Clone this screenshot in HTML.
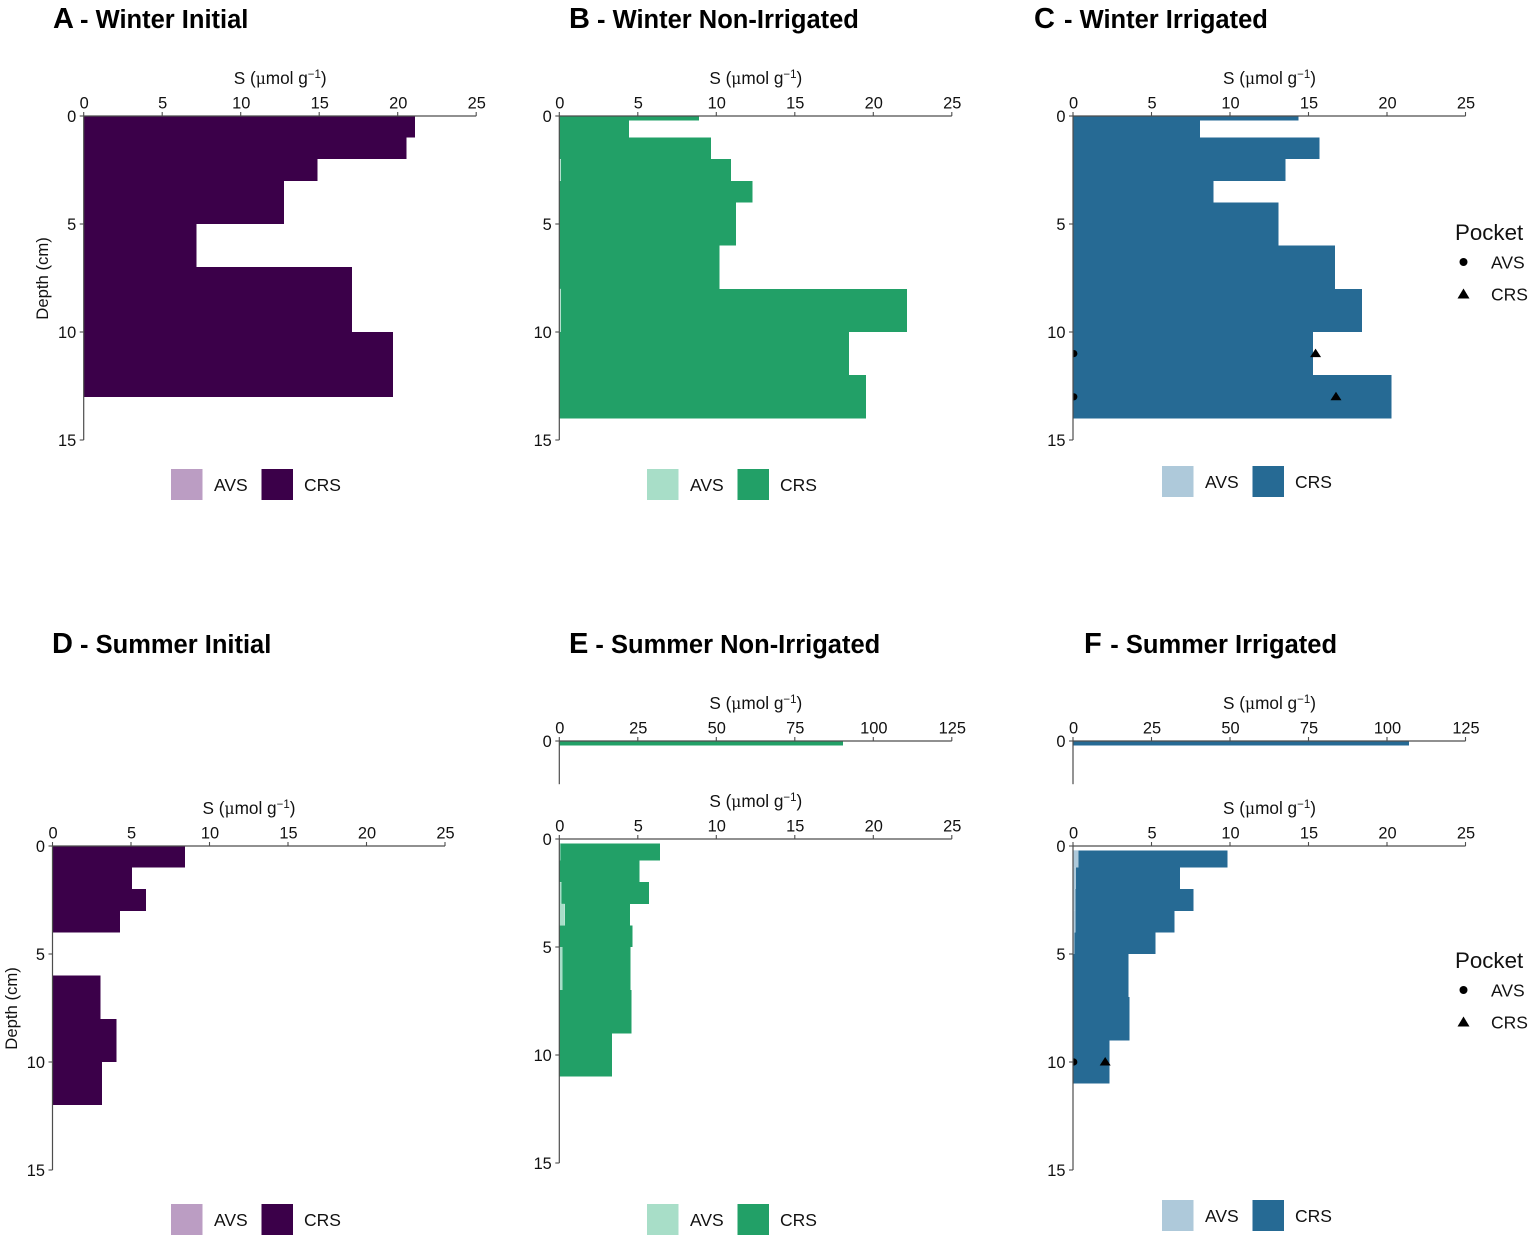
<!DOCTYPE html>
<html lang="en">
<head>
<meta charset="utf-8">
<title>Sulfur depth profiles</title>
<style>
html,body{margin:0;padding:0;background:#fff;}
svg{display:block;font-family:"Liberation Sans",Arial,sans-serif;}
.title{font-weight:bold;font-size:25.5px;fill:#000;}
.title .big{font-size:29px;}
.tick{font-size:16.4px;fill:#111;}
.axt{font-size:17.2px;fill:#111;}
.lg{font-size:17.5px;fill:#111;}
.pk{font-size:22.3px;fill:#111;}
</style>
</head>
<body>
<svg id="figure" xmlns="http://www.w3.org/2000/svg" width="1535" height="1242" viewBox="0 0 1535 1242">
<rect x="0" y="0" width="1535" height="1242" fill="#ffffff"/>
<text class="title" x="53" y="28"><tspan class="big">A</tspan><tspan dx="-1"> - Winter Initial</tspan></text>
<text class="title" x="569" y="28"><tspan class="big">B</tspan> - Winter Non-Irrigated</text>
<text class="title" x="1034" y="28"><tspan class="big">C</tspan><tspan dx="2"> - Winter Irrigated</tspan></text>
<text class="title" x="52" y="653"><tspan class="big">D</tspan> - Summer Initial</text>
<text class="title" x="569" y="653"><tspan class="big">E</tspan> - Summer Non-Irrigated</text>
<text class="title" x="1084" y="653"><tspan class="big">F</tspan><tspan dx="1.5"> - Summer Irrigated</tspan></text>
<text class="pk" x="1455" y="240">Pocket</text>
<circle cx="1463.5" cy="262" r="4" fill="#000"/>
<text class="lg" x="1491" y="268.5">AVS</text>
<polygon points="1463.5,288.5 1469.5,298.5 1457.5,298.5" fill="#000"/>
<text class="lg" x="1491" y="300.5">CRS</text>
<text class="pk" x="1455" y="968">Pocket</text>
<circle cx="1463.5" cy="990" r="4" fill="#000"/>
<text class="lg" x="1491" y="996.5">AVS</text>
<polygon points="1463.5,1016.5 1469.5,1026.5 1457.5,1026.5" fill="#000"/>
<text class="lg" x="1491" y="1028.5">CRS</text>
</svg>
<script>
// Shared tick labels
var ticksS = [0, 5, 10, 15, 20, 25];
var ticksSBroken = [0, 25, 50, 75, 100, 125];
var ticksDepth = [0, 5, 10, 15];
var ticksDepthBroken = [0];

// Panel A - Winter Initial
var aTop = [0, 1, 2, 3, 5, 7, 10];
var aBottom = [1, 2, 3, 5, 7, 10, 13];
var aAvs = [0, 0, 0, 0, 0, 0, 0];
var aCrs = [21.1, 20.55, 14.9, 12.75, 7.2, 17.1, 19.7];

// Panel B - Winter Non-Irrigated
var bTop = [0, 0.2, 1, 2, 3, 4, 6, 8, 10, 12];
var bBottom = [0.2, 1, 2, 3, 4, 6, 8, 10, 12, 14];
var bAvs = [0, 0, 0, 0.1, 0, 0, 0, 0.1, 0, 0];
var bCrs = [8.9, 4.45, 9.65, 10.85, 12.3, 11.25, 10.2, 22.05, 18.45, 19.55];

// Panel C - Winter Irrigated
var cTop = [0, 0.2, 1, 2, 3, 4, 6, 8, 10, 12];
var cBottom = [0.2, 1, 2, 3, 4, 6, 8, 10, 12, 14];
var cAvs = [0, 0, 0, 0, 0, 0, 0, 0, 0, 0];
var cCrs = [14.35, 8.1, 15.7, 13.55, 8.95, 13.1, 16.7, 18.4, 15.3, 20.3];
var cMarkDepth = [11, 13];
var cMarkAvs = [0.05, 0.05];
var cMarkCrs = [15.45, 16.75];

// Panel D - Summer Initial
var dTop = [0, 1, 2, 3, 6, 8, 10];
var dBottom = [1, 2, 3, 4, 8, 10, 12];
var dAvs = [0, 0, 0, 0, 0, 0, 0];
var dCrs = [8.45, 5.05, 5.95, 4.3, 3.05, 4.07, 3.15];

// Panel E - Summer Non-Irrigated (upper broken axis + lower)
var eUpperTop = [0];
var eUpperBottom = [0.2];
var eUpperAvs = [0];
var eUpperCrs = [90.3];
var eTop = [0.2, 1, 2, 3, 4, 5, 7, 9];
var eBottom = [1, 2, 3, 4, 5, 7, 9, 11];
var eAvs = [0.08, 0, 0.15, 0.35, 0, 0.2, 0, 0];
var eCrs = [6.32, 5.1, 5.55, 4.15, 4.65, 4.35, 4.6, 3.37];

// Panel F - Summer Irrigated (upper broken axis + lower)
var fUpperTop = [0];
var fUpperBottom = [0.2];
var fUpperAvs = [0];
var fUpperCrs = [107];
var fTop = [0.2, 1, 2, 3, 4, 5, 7, 9];
var fBottom = [1, 2, 3, 4, 5, 7, 9, 11];
var fAvs = [0.35, 0.2, 0.15, 0.15, 0.1, 0, 0, 0];
var fCrs = [9.5, 6.6, 7.52, 6.32, 5.17, 3.53, 3.6, 2.33];
var fMarkDepth = [10];
var fMarkAvs = [0.05];
var fMarkCrs = [2.05];

var svg = document.getElementById('figure');
var NS = 'http://www.w3.org/2000/svg';
var AXIS = '#4d4d4d';
var clipCount = 0;

function add(parent, tag, props, name) {
  var el = document.createElementNS(NS, tag);
  for (var k in props) { el.setAttribute(k, props[k]); }
  
  
  parent.appendChild(el);
  return el;
}

function drawAxisTitle(g, x, y) {
  var t = add(g, 'text', {'class': 'axt', x: x, y: y, 'text-anchor': 'middle'}, 'x-axis-title');
  var a = document.createElementNS(NS, 'tspan');
  a.textContent = 'S (';
  t.appendChild(a);
  var m = document.createElementNS(NS, 'tspan');
  m.setAttribute('font-family', '"DejaVu Serif","Liberation Serif",serif');
  m.setAttribute('font-size', '15.5');
  m.textContent = '\u03BC';
  t.appendChild(m);
  var b = document.createElementNS(NS, 'tspan');
  b.textContent = 'mol g';
  t.appendChild(b);
  var s = document.createElementNS(NS, 'tspan');
  s.setAttribute('font-size', '11.5');
  s.setAttribute('dy', '-6');
  s.textContent = '\u22121';
  t.appendChild(s);
  var c = document.createElementNS(NS, 'tspan');
  c.setAttribute('dy', '6');
  c.textContent = ')';
  t.appendChild(c);
}

// One plot area: bars, markers, top x axis, left depth axis
function drawPlot(name, o) {
  var g = add(svg, 'g', {}, name);
  var W = 392.5, PX_PER_CM = 21.6;
  var xMax = o.xTicks[o.xTicks.length - 1];
  var sx = function (v) { return o.x0 + v / xMax * W; };
  var sy = function (d) { return o.y0 + d * PX_PER_CM; };

  o.top.forEach(function (t, i) {
    var y = sy(t), h = sy(o.bottom[i]) - y;
    if (o.avs[i] > 0) {
      add(g, 'rect', {x: sx(0), y: y, width: sx(o.avs[i]) - sx(0), height: h, fill: o.light}, 'avs-bar');
    }
    add(g, 'rect', {x: sx(o.avs[i]), y: y, width: sx(o.avs[i] + o.crs[i]) - sx(o.avs[i]), height: h, fill: o.dark, 'shape-rendering': 'crispEdges'}, 'crs-bar');
  });

  if (o.markDepth) {
    clipCount += 1;
    var clipId = 'plot-clip-' + clipCount;
    var clip = add(g, 'clipPath', {id: clipId}, 'marker-clip');
    add(clip, 'rect', {x: sx(0) - 0.5, y: o.y0, width: W + 1, height: sy(o.yEnd) - o.y0}, 'marker-clip-area');
    o.markDepth.forEach(function (d, i) {
      add(g, 'circle', {cx: sx(o.markAvs[i]), cy: sy(d), r: 3.6, fill: '#000', 'clip-path': 'url(#' + clipId + ')'}, 'avs-marker');
      var cx = sx(o.markCrs[i]), cy = sy(d);
      add(g, 'polygon', {points: cx + ',' + (cy - 5) + ' ' + (cx + 5.5) + ',' + (cy + 3.5) + ' ' + (cx - 5.5) + ',' + (cy + 3.5), fill: '#000'}, 'crs-marker');
    });
  }

  add(g, 'line', {x1: sx(0), x2: sx(xMax), y1: o.y0, y2: o.y0, stroke: AXIS, 'stroke-width': 1.2}, 'x-axis-line');
  add(g, 'line', {x1: sx(0), x2: sx(0), y1: o.y0, y2: sy(o.yEnd), stroke: AXIS, 'stroke-width': 1.2}, 'y-axis-line');

  o.xTicks.forEach(function (v) {
    add(g, 'line', {x1: sx(v), x2: sx(v), y1: o.y0 - 4, y2: o.y0, stroke: AXIS, 'stroke-width': 1.1}, 'x-tick');
    var t = add(g, 'text', {'class': 'tick', x: sx(v) + 0.5, y: o.y0 - 7.5, 'text-anchor': 'middle'}, 'x-tick-label');
    t.textContent = v;
  });
  o.yTicks.forEach(function (v) {
    add(g, 'line', {x1: sx(0) - 4, x2: sx(0), y1: sy(v), y2: sy(v), stroke: AXIS, 'stroke-width': 1.1}, 'y-tick');
    var t = add(g, 'text', {'class': 'tick', x: sx(0) - 7.5, y: sy(v) + 6, 'text-anchor': 'end'}, 'y-tick-label');
    t.textContent = v;
  });
  drawAxisTitle(g, o.x0 + 196.5, o.y0 - 32);
  if (o.yTitleX) {
    var yt = add(g, 'text', {'class': 'axt', transform: 'translate(' + o.yTitleX + ',' + sy(7.52) + ') rotate(-90)', 'text-anchor': 'middle', style: 'font-size:16.7px'}, 'y-axis-title');
    yt.textContent = 'Depth (cm)';
  }
}

function drawFillLegend(name, x, y, light, dark) {
  var g = add(svg, 'g', {}, name);
  add(g, 'rect', {x: x, y: y, width: 31.5, height: 31, fill: light}, 'legend-avs-swatch');
  var a = add(g, 'text', {'class': 'lg', x: x + 43, y: y + 22}, 'legend-avs-label');
  a.textContent = 'AVS';
  add(g, 'rect', {x: x + 90.5, y: y, width: 31.5, height: 31, fill: dark}, 'legend-crs-swatch');
  var c = add(g, 'text', {'class': 'lg', x: x + 133, y: y + 22}, 'legend-crs-label');
  c.textContent = 'CRS';
}

var PURPLE = '#3b0049', PURPLE_L = '#bb9dc3';
var GREEN = '#22a067', GREEN_L = '#a8dec8';
var BLUE = '#266a94', BLUE_L = '#aec9da';

drawPlot('panel-a-plot', {x0: 83.7, y0: 116, yEnd: 15, xTicks: ticksS, yTicks: ticksDepth, top: aTop, bottom: aBottom, avs: aAvs, crs: aCrs, dark: PURPLE, light: PURPLE_L, yTitleX: 48});
drawPlot('panel-b-plot', {x0: 559.3, y0: 116, yEnd: 15, xTicks: ticksS, yTicks: ticksDepth, top: bTop, bottom: bBottom, avs: bAvs, crs: bCrs, dark: GREEN, light: GREEN_L});
drawPlot('panel-c-plot', {x0: 1073, y0: 116, yEnd: 15, xTicks: ticksS, yTicks: ticksDepth, top: cTop, bottom: cBottom, avs: cAvs, crs: cCrs, dark: BLUE, light: BLUE_L, markDepth: cMarkDepth, markAvs: cMarkAvs, markCrs: cMarkCrs});
drawPlot('panel-d-plot', {x0: 52.5, y0: 846, yEnd: 15, xTicks: ticksS, yTicks: ticksDepth, top: dTop, bottom: dBottom, avs: dAvs, crs: dCrs, dark: PURPLE, light: PURPLE_L, yTitleX: 17});
drawPlot('panel-e-upper-plot', {x0: 559.3, y0: 741, yEnd: 2, xTicks: ticksSBroken, yTicks: ticksDepthBroken, top: eUpperTop, bottom: eUpperBottom, avs: eUpperAvs, crs: eUpperCrs, dark: GREEN, light: GREEN_L});
drawPlot('panel-e-lower-plot', {x0: 559.3, y0: 839, yEnd: 15, xTicks: ticksS, yTicks: ticksDepth, top: eTop, bottom: eBottom, avs: eAvs, crs: eCrs, dark: GREEN, light: GREEN_L});
drawPlot('panel-f-upper-plot', {x0: 1073, y0: 741, yEnd: 2, xTicks: ticksSBroken, yTicks: ticksDepthBroken, top: fUpperTop, bottom: fUpperBottom, avs: fUpperAvs, crs: fUpperCrs, dark: BLUE, light: BLUE_L});
drawPlot('panel-f-lower-plot', {x0: 1073, y0: 846, yEnd: 15, xTicks: ticksS, yTicks: ticksDepth, top: fTop, bottom: fBottom, avs: fAvs, crs: fCrs, dark: BLUE, light: BLUE_L, markDepth: fMarkDepth, markAvs: fMarkAvs, markCrs: fMarkCrs});

drawFillLegend('panel-a-legend', 171, 469, PURPLE_L, PURPLE);
drawFillLegend('panel-b-legend', 647, 469, GREEN_L, GREEN);
drawFillLegend('panel-c-legend', 1162, 466, BLUE_L, BLUE);
drawFillLegend('panel-d-legend', 171, 1204, PURPLE_L, PURPLE);
drawFillLegend('panel-e-legend', 647, 1204, GREEN_L, GREEN);
drawFillLegend('panel-f-legend', 1162, 1200, BLUE_L, BLUE);
</script>
</body>
</html>
